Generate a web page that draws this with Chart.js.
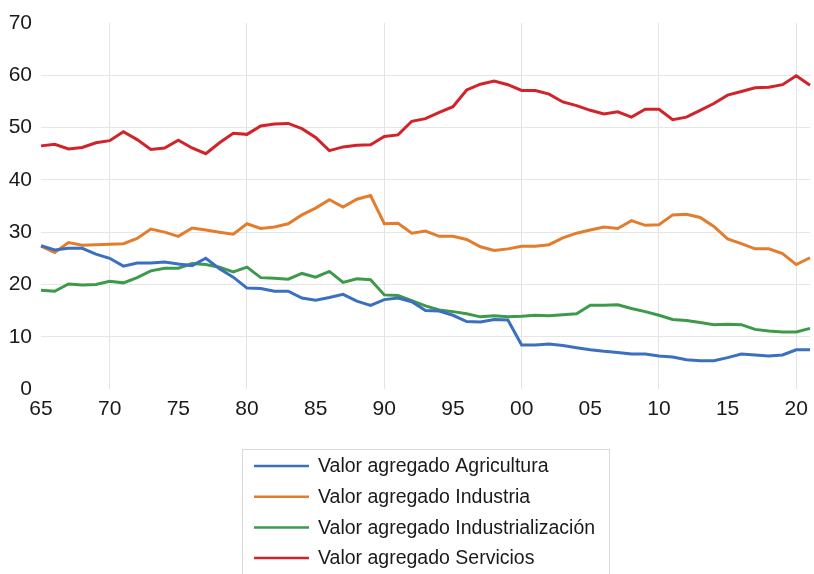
<!DOCTYPE html>
<html>
<head>
<meta charset="utf-8">
<script src="https://cdn.jsdelivr.net/npm/chart.js@4.4.1/dist/chart.umd.min.js"></script>
<style>
  html, body { margin: 0; padding: 0; background: #fff; }
  #wrap { width: 814px; height: 574px; }
</style>
</head>
<body>
<div id="wrap"><canvas id="sectorChart" width="814" height="574"></canvas></div>
<script>
// años 1965 - 2021
const years = [];
for (let y = 1965; y <= 2021; y++) years.push(y);

const agricultura = [27.4, 26.6, 26.9, 26.9, 25.8, 25.0, 23.5, 24.1, 24.1, 24.3,
  23.9, 23.6, 25.0, 23.0, 21.4, 19.3, 19.2, 18.7, 18.7, 17.4,
  17.0, 17.5, 18.1, 16.8, 16.0, 17.1, 17.4, 16.7, 15.0, 14.9,
  14.1, 12.9, 12.8, 13.3, 13.2, 8.4, 8.4, 8.6, 8.3, 7.9,
  7.5, 7.2, 7.0, 6.7, 6.7, 6.3, 6.1, 5.6, 5.4, 5.4,
  6.0, 6.7, 6.5, 6.3, 6.5, 7.5, 7.5];

const industria = [27.3, 26.1, 28.0, 27.5, 27.6, 27.7, 27.8, 28.8, 30.6, 30.0,
  29.2, 30.8, 30.4, 30.0, 29.6, 31.6, 30.7, 31.0, 31.6, 33.3,
  34.6, 36.2, 34.8, 36.3, 37.0, 31.6, 31.7, 29.8, 30.2, 29.2,
  29.2, 28.6, 27.2, 26.5, 26.8, 27.3, 27.3, 27.6, 28.9, 29.8,
  30.4, 31.0, 30.7, 32.2, 31.3, 31.4, 33.3, 33.4, 32.8, 31.1,
  28.7, 27.8, 26.8, 26.8, 25.9, 23.8, 25.1];

const industrializacion = [18.9, 18.7, 20.1, 19.9, 20.0, 20.6, 20.3, 21.3, 22.6, 23.1,
  23.1, 24.0, 23.8, 23.3, 22.4, 23.3, 21.3, 21.2, 21.0, 22.1,
  21.4, 22.5, 20.4, 21.1, 20.9, 18.0, 17.9, 16.9, 15.9, 15.1,
  14.8, 14.4, 13.8, 14.0, 13.8, 13.9, 14.1, 14.0, 14.2, 14.4,
  16.0, 16.0, 16.1, 15.4, 14.8, 14.1, 13.3, 13.1, 12.7, 12.3,
  12.4, 12.3, 11.4, 11.1, 10.9, 10.9, 11.6];

const servicios = [46.5, 46.8, 45.9, 46.2, 47.1, 47.5, 49.2, 47.7, 45.8, 46.1,
  47.6, 46.1, 45.0, 47.1, 48.9, 48.7, 50.3, 50.7, 50.8, 49.8,
  48.1, 45.6, 46.3, 46.6, 46.7, 48.3, 48.6, 51.2, 51.7, 52.9,
  54.0, 57.2, 58.3, 58.9, 58.2, 57.1, 57.1, 56.4, 54.9, 54.2,
  53.3, 52.6, 53.0, 52.0, 53.5, 53.5, 51.5, 52.0, 53.3, 54.6,
  56.2, 56.9, 57.6, 57.7, 58.2, 59.9, 58.1];

const yTicks = [0, 10, 20, 30, 40, 50, 60, 70];

const FONT = '"Liberation Sans", Arial, sans-serif';

// leyenda en recuadro, una columna
const legendBox = {
  id: 'legendBox',
  afterDraw: function(chart) {
    var c = chart.ctx;
    c.save();
    c.strokeStyle = '#d9d9d9';
    c.lineWidth = 1;
    c.strokeRect(242.5, 449.5, 367, 140);
    chart.data.datasets.forEach(function(ds, i) {
      var y = 466 + i * 30.7;
      c.strokeStyle = ds.borderColor;
      c.lineWidth = 2.5;
      c.beginPath();
      c.moveTo(254, y);
      c.lineTo(309, y);
      c.stroke();
      c.fillStyle = '#1a1a1a';
      c.font = '19.5px ' + FONT;
      c.textBaseline = 'middle';
      c.fillText(ds.label, 318, y + 1);
    });
    c.restore();
  }
};

function line(label, data, color) {
  return {
    label: label,
    data: data,
    borderColor: color,
    backgroundColor: color,
    borderWidth: 3,
    pointRadius: 0,
    tension: 0,
    fill: false
  };
}

new Chart('sectorChart', {
  type: 'line',
  data: {
    labels: years,
    datasets: [
      line('Valor agregado Agricultura', agricultura, '#3b6fbf'),
      line('Valor agregado Industria', industria, '#e37d2e'),
      line('Valor agregado Industrialización', industrializacion, '#3e9a4b'),
      line('Valor agregado Servicios', servicios, '#d1232a')
    ]
  },
  options: {
    responsive: false,
    animation: false,
    layout: { padding: { top: 23, right: 0, left: 0, bottom: 0 } },
    plugins: {
      legend: { display: false },
      tooltip: { enabled: false }
    },
    scales: {
      x: {
        offset: false,
        border: { display: false },
        grid: {
          drawTicks: false,
          color: function(ctx) {
            var y = years[ctx.index];
            return (y % 10 === 0) ? '#e3e3e3' : 'rgba(0,0,0,0)';
          }
        },
        ticks: {
          autoSkip: false,
          maxRotation: 0,
          minRotation: 0,
          padding: 8,
          color: '#1a1a1a',
          font: { family: FONT, size: 21 },
          callback: function(val, i) {
            var y = years[i];
            return (y % 5 === 0) ? String(y).slice(2) : '';
          }
        },
        afterFit: function(scale) {
          scale.height = 185;
          scale.paddingRight = 4;
        }
      },
      y: {
        min: 0,
        max: 70,
        border: { display: false },
        grid: {
          drawTicks: false,
          color: function(ctx) {
            var v = ctx.tick.value;
            return (v > 0 && v < 70) ? '#e6e6e6' : 'rgba(0,0,0,0)';
          }
        },
        afterBuildTicks: function(scale) {
          scale.ticks = yTicks.map(function(v) { return { value: v }; });
        },
        ticks: {
          padding: 9,
          color: '#1a1a1a',
          font: { family: FONT, size: 21 }
        },
        afterFit: function(scale) { scale.width = 41; }
      }
    }
  },
  plugins: [legendBox]
});
</script>
</body>
</html>
